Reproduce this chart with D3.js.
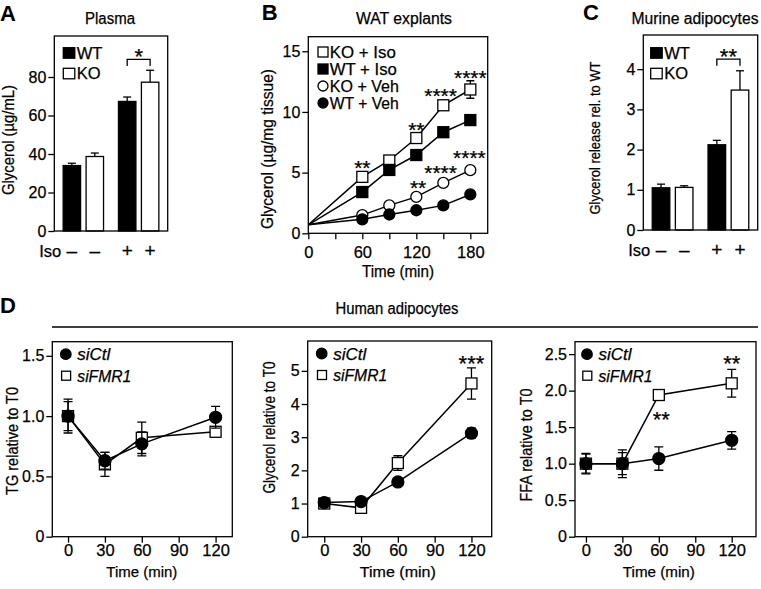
<!DOCTYPE html>
<html><head><meta charset="utf-8">
<script src="https://cdn.jsdelivr.net/npm/d3@7"></script>
<style>body{margin:0;background:#fff} svg{display:block}</style>
</head><body><svg id="c" width="761" height="589"></svg>
<script>
// ---------------- DATA ----------------
// Panel A – Plasma
const isoGroups = ["–", "+"];
const genotypes = ["WT", "KO"];
const plasmaWT = [34.0, 67.3];
const plasmaWTErr = [1.2, 2.3];
const plasmaKO = [38.7, 77.3];
const plasmaKOErr = [1.8, 6.2];
const plasmaTicks = [0, 20, 40, 60, 80];
const plasmaSig = {label: "*", level: 89.2};

// Panel B – WAT explants
const watTimes = [0, 60, 90, 120, 150, 180];
const watKOIso = [0.7, 4.65, 6.0, 7.85, 10.55, 11.85];
const watKOIsoErr = [0, 0.2, 0.2, 0.25, 0.3, 0.72];
const watWTIso = [0.7, 3.4, 5.22, 6.45, 8.33, 9.33];
const watKOVeh = [0.7, 1.5, 2.3, 3.0, 4.15, 5.2];
const watWTVeh = [0.7, 1.15, 1.55, 1.9, 2.3, 3.2];
const watXTicks = [0, 30, 60, 90, 120, 150, 180];
const watYTicks = [0, 5, 10, 15];
const watStars = [
  {t: 60, v: 5.79, label: "**"}, {t: 120, v: 8.92, label: "**"},
  {t: 147, v: 11.78, label: "****"}, {t: 180, v: 13.2, label: "****"},
  {t: 122, v: 4.12, label: "**"}, {t: 147, v: 5.38, label: "****"},
  {t: 179, v: 6.61, label: "****"}
];

// Panel C – Murine adipocytes
const murWT = [1.05, 2.12];
const murWTErr = [0.09, 0.11];
const murKO = [1.06, 3.48];
const murKOErr = [0.04, 0.48];
const murTicks = [0, 1, 2, 3, 4];
const murSig = {label: "**", level: 4.25};

// Panel D – Human adipocytes
const humTimes = [0, 30, 60, 120];
const humXTicks = [0, 30, 60, 90, 120];
const tgCtl = [1.0, 0.63, 0.77, 0.99];
const tgCtlErr = [0.14, 0.07, 0.1, 0.09];
const tgFMR1 = [1.0, 0.6, 0.82, 0.87];
const tgFMR1Err = [0.12, 0.1, 0.13, 0.03];
const tgTicks = [0, 0.5, 1.0, 1.5];
const glyCtl = [1.03, 1.06, 1.65, 3.12];
const glyCtlErr = [0.1, 0.08, 0.08, 0.15];
const glyFMR1 = [1.0, 0.87, 2.22, 4.62];
const glyFMR1Err = [0.12, 0.06, 0.22, 0.47];
const glyTicks = [0, 1, 2, 3, 4, 5];
const glyStars = [{t: 120, v: 5.37, label: "***"}];
const ffaCtl = [1.0, 1.0, 1.07, 1.32];
const ffaCtlErr = [0.14, 0.15, 0.16, 0.12];
const ffaFMR1 = [1.0, 1.0, 1.94, 2.1];
const ffaFMR1Err = [0.13, 0.19, 0.03, 0.19];
const ffaTicks = [0, 0.5, 1.0, 1.5, 2.0, 2.5];
const ffaStars = [{t: 62, v: 1.68, label: "**"}, {t: 120, v: 2.44, label: "**"}];

// ---------------- DRAWING ----------------
const FONT = '"Liberation Sans", Arial, Helvetica, sans-serif';
const svg = d3.select("#c");
const SW = 1.3;
const TSTROKE = 0.25;

function txt(x, y, s, o = {}) {
  const t = svg.append("text").attr("x", x).attr("y", y).text(s)
    .attr("font-family", FONT).attr("font-size", o.fs || 15.5)
    .attr("text-anchor", o.anchor || "start").attr("fill", "#000")
    .attr("stroke", "#000").attr("stroke-width", o.bold ? 0 : TSTROKE);
  if (o.bold) t.attr("font-weight", "bold");
  if (o.italic) t.attr("font-style", "italic");
  if (o.len) t.attr("textLength", o.len).attr("lengthAdjust", "spacingAndGlyphs");
  if (o.rot) t.attr("transform", `rotate(-90,${x},${y})`);
  return t;
}
function frame(f) {
  svg.append("rect").attr("x", f.x0).attr("y", f.y0).attr("width", f.x1 - f.x0)
    .attr("height", f.y1 - f.y0).attr("fill", "none").attr("stroke", "#000").attr("stroke-width", SW);
}
function styleAxis(g, fs) {
  g.attr("font-size", null).attr("font-family", null);
  g.select(".domain").remove();
  g.selectAll("line").attr("stroke", "#000").attr("stroke-width", SW);
  g.selectAll("text").attr("font-size", fs).attr("font-family", FONT).attr("fill", "#000")
    .attr("stroke", "#000").attr("stroke-width", TSTROKE);
}
function yAxis(f, y, ticks, fmt, fs) {
  const g = svg.append("g").attr("transform", `translate(${f.x0},0)`)
    .call(d3.axisLeft(y).tickValues(ticks).tickSize(6).tickPadding(2).tickFormat(fmt));
  styleAxis(g, fs || 16);
}
function xAxis(f, x, ticks, fmt, fs, pad) {
  const g = svg.append("g").attr("transform", `translate(0,${f.y1})`)
    .call(d3.axisBottom(x).tickValues(ticks).tickSize(6).tickPadding(pad).tickFormat(fmt));
  styleAxis(g, fs || 16.5);
}
function stars(x, y, label, fs) {
  fs = fs || 22;
  txt(x, y + 0.58 * fs, label, {fs: fs, anchor: "middle"});
}
const fmtInt = d3.format("d");
const fmtDec = d => d === 0 ? "0" : d3.format(".1f")(d);

// ---- bar panel ----
function barPanel(f, yMax, wt, wtErr, ko, koErr, ticks, sig, leg) {
  const y = d3.scaleLinear().domain([0, yMax]).range([f.y1, f.y0]);
  const xo = d3.scaleBand().domain(isoGroups).range([f.x0, f.x1]).paddingInner(0.27).paddingOuter(0.16);
  const xi = d3.scaleBand().domain(genotypes).range([0, xo.bandwidth()]).paddingInner(0.24);
  const rows = isoGroups.flatMap((g, i) => [
    {g, k: "WT", v: wt[i], e: wtErr[i]}, {g, k: "KO", v: ko[i], e: koErr[i]}]);
  const cx = r => xo(r.g) + xi(r.k) + xi.bandwidth() / 2;
  rows.forEach(r => {
    svg.append("line").attr("x1", cx(r)).attr("x2", cx(r)).attr("y1", y(r.v)).attr("y2", y(r.v + r.e))
      .attr("stroke", "#000").attr("stroke-width", SW);
    svg.append("line").attr("x1", cx(r) - 4).attr("x2", cx(r) + 4).attr("y1", y(r.v + r.e)).attr("y2", y(r.v + r.e))
      .attr("stroke", "#000").attr("stroke-width", SW);
  });
  svg.selectAll(null).data(rows).enter().append("rect")
    .attr("x", r => xo(r.g) + xi(r.k)).attr("width", xi.bandwidth())
    .attr("y", r => y(r.v)).attr("height", r => y(0) - y(r.v))
    .attr("fill", r => r.k === "WT" ? "#000" : "#fff").attr("stroke", "#000").attr("stroke-width", SW);
  frame(f);
  yAxis(f, y, ticks, fmtInt, 16);
  // Iso row
  txt(f.x0 + 7, f.y1 + 26, "Iso", {fs: 16.5, anchor: "end"});
  rows.forEach(r => txt(cx(r), f.y1 + 26, r.g, {fs: 19, anchor: "middle"}));
  // significance bracket on "+" group
  const a = cx(rows[2]), b = cx(rows[3]), ly = y(sig.level);
  svg.append("path").attr("d", `M${a},${ly + 6.7}V${ly}H${b}V${ly + 6.7}`)
    .attr("fill", "none").attr("stroke", "#000").attr("stroke-width", SW);
  stars((a + b) / 2, ly - 8, sig.label, 22);
  // legend
  genotypes.forEach((k, i) => {
    svg.append("rect").attr("x", f.x0 + leg.dx).attr("y", f.y0 + leg.dy + i * 20.6).attr("width", 11.5).attr("height", 10.5)
      .attr("fill", k === "WT" ? "#000" : "#fff").attr("stroke", "#000").attr("stroke-width", SW);
    txt(f.x0 + leg.dx + 13.5, f.y0 + leg.dy + 10.9 + i * 20.6, k, {fs: 16.5});
  });
}

// ---- markers ----
function marker(x, y, shape, fill, size) {
  if (shape === "circle") {
    svg.append("circle").attr("cx", x).attr("cy", y).attr("r", size / 2)
      .attr("fill", fill).attr("stroke", "#000").attr("stroke-width", SW);
  } else {
    svg.append("rect").attr("x", x - size / 2).attr("y", y - size / 2).attr("width", size).attr("height", size)
      .attr("fill", fill).attr("stroke", "#000").attr("stroke-width", SW);
  }
}
function errBar(X, yLo, yHi, cap) {
  svg.append("path").attr("d",
    `M${X},${yLo}V${yHi}M${X - cap / 2},${yHi}H${X + cap / 2}M${X - cap / 2},${yLo}H${X + cap / 2}`)
    .attr("stroke", "#000").attr("stroke-width", SW).attr("fill", "none");
}
function linePath(x, y, times, vals) {
  const pts = times.map((t, i) => ({t, v: vals[i]}));
  svg.append("path").datum(pts).attr("d", d3.line().x(d => x(d.t)).y(d => y(d.v)))
    .attr("fill", "none").attr("stroke", "#000").attr("stroke-width", 1.5);
}
function points(x, y, times, vals, errs, shape, fill, size, cap, skipZero) {
  times.forEach((t, i) => {
    if (skipZero && t === 0) return;
    if (errs && errs[i] > 0) errBar(x(t), y(vals[i] - errs[i]), y(vals[i] + errs[i]), cap);
  });
  times.forEach((t, i) => {
    if (skipZero && t === 0) return;
    marker(x(t), y(vals[i]), shape, fill, size);
  });
}

// ================= Panel A =================
txt(0, 20.7, "A", {fs: 22, bold: true});
txt(110, 24, "Plasma", {fs: 16, anchor: "middle", len: 50});
const fA = {x0: 54.3, x1: 167.7, y0: 36, y1: 231};
barPanel(fA, 101.3, plasmaWT, plasmaWTErr, plasmaKO, plasmaKOErr, plasmaTicks, plasmaSig, {dx: 9, dy: 11.7});
txt(13.8, 140, "Glycerol (µg/mL)", {fs: 16, anchor: "middle", rot: true, len: 110});

// ================= Panel B =================
txt(261.7, 20, "B", {fs: 22, bold: true});
txt(404, 24, "WAT explants", {fs: 16, anchor: "middle", len: 96});
const fB = {x0: 308.3, x1: 487.7, y0: 36.7, y1: 233.3};
{
  const x = d3.scaleLinear().domain([0, 199.3]).range([fB.x0, fB.x1]);
  const y = d3.scaleLinear().domain([0, 16.2]).range([fB.y1, fB.y0]);
  const specs = [
    [watKOVeh, null, "circle", "#fff"],
    [watWTVeh, null, "circle", "#000"],
    [watKOIso, watKOIsoErr, "rect", "#fff"],
    [watWTIso, null, "rect", "#000"]
  ];
  specs.forEach(s => linePath(x, y, watTimes, s[0]));
  specs.forEach(s => points(x, y, watTimes, s[0], s[1], s[2], s[3], 11, 8, true));
  frame(fB);
  yAxis(fB, y, watYTicks, fmtInt, 16);
  xAxis(fB, x, watXTicks, d => d % 60 === 0 ? d : "", 16.5, 7);
  txt((fB.x0 + fB.x1) / 2, 277, "Time (min)", {fs: 16, anchor: "middle", len: 72});
  txt(272.8, 149, "Glycerol (µg/mg tissue)", {fs: 16, anchor: "middle", rot: true, len: 160});
  watStars.forEach(s => stars(x(s.t), y(s.v), s.label, 21));
  const legB = [["KO + Iso", "rect", "#fff"], ["WT + Iso", "rect", "#000"], ["KO + Veh", "circle", "#fff"], ["WT + Veh", "circle", "#000"]];
  const legLen = [66, 67, 69, 69];
  legB.forEach((l, i) => {
    const cy = fB.y0 + 15.3 + i * 17;
    marker(fB.x0 + 14.7, cy, l[1], l[2], 10);
    txt(fB.x0 + 21.5, cy + 5.7, l[0], {fs: 16.5, len: legLen[i]});
  });
}

// ================= Panel C =================
txt(583, 20, "C", {fs: 22, bold: true});
txt(695, 24, "Murine adipocytes", {fs: 16, anchor: "middle", len: 127});
const fC = {x0: 643.3, x1: 757.7, y0: 35, y1: 230};
barPanel(fC, 4.85, murWT, murWTErr, murKO, murKOErr, murTicks, murSig, {dx: 7.4, dy: 12.7});
txt(599.5, 138, "Glycerol release rel. to WT", {fs: 15.5, anchor: "middle", rot: true, len: 153});

// ================= Panel D =================
txt(0, 313, "D", {fs: 22, bold: true});
txt(397, 314, "Human adipocytes", {fs: 16, anchor: "middle", len: 123});
svg.append("line").attr("x1", 52).attr("x2", 758).attr("y1", 327).attr("y2", 327)
  .attr("stroke", "#000").attr("stroke-width", SW);

function humPanel(f, xDom, yMax, ctl, ctlErr, fmr, fmrErr, ticks, fmt, label, lab, st, legDx, timeLen) {
  const x = d3.scaleLinear().domain(xDom).range([f.x0, f.x1]);
  const y = d3.scaleLinear().domain([0, yMax]).range([f.y1, f.y0]);
  linePath(x, y, humTimes, fmr);
  linePath(x, y, humTimes, ctl);
  points(x, y, humTimes, fmr, fmrErr, "rect", "#fff", 11, 9, false);
  points(x, y, humTimes, ctl, ctlErr, "circle", "#000", 12, 9, false);
  frame(f);
  yAxis(f, y, ticks, fmt, 16);
  xAxis(f, x, humXTicks, fmtInt, 16.5, 2);
  txt(x(60), 576.5, "Time (min)", {fs: 15.5, anchor: "middle", len: timeLen});
  txt(lab.x, lab.y, label, {fs: 16, anchor: "middle", rot: true, len: lab.len});
  (st || []).forEach(s => stars(x(s.t), y(s.v), s.label, 22));
  marker(f.x0 + legDx, f.y0 + 12.5, "circle", "#000", 10.5);
  txt(f.x0 + legDx + 11.5, f.y0 + 18.5, "siCtl", {fs: 16.5, italic: true, len: 33});
  marker(f.x0 + legDx + 0.3, f.y0 + 34, "rect", "#fff", 9);
  txt(f.x0 + legDx + 11.5, f.y0 + 40.3, "siFMR1", {fs: 16.5, italic: true, len: 54});
}
humPanel({x0: 52.3, x1: 232.3, y0: 341.7, y1: 536.7}, [-12.8, 133.6], 1.617,
  tgCtl, tgCtlErr, tgFMR1, tgFMR1Err, tgTicks, fmtDec, "TG relative to T0", {x: 17.5, y: 441, len: 108}, [], 13.5, 71);
humPanel({x0: 307.7, x1: 491.7, y0: 341, y1: 536.7}, [-13.5, 136.5], 5.9,
  glyCtl, glyCtlErr, glyFMR1, glyFMR1Err, glyTicks, fmtInt, "Glycerol relative to T0", {x: 275, y: 427.5, len: 132}, glyStars, 14, 76);
humPanel({x0: 575, x1: 756, y0: 341.7, y1: 536.7}, [-9, 140], 2.67,
  ffaCtl, ffaCtlErr, ffaFMR1, ffaFMR1Err, ffaTicks, fmtDec, "FFA relative to T0", {x: 531.5, y: 445, len: 113}, ffaStars, 12, 72);
</script></body></html>
